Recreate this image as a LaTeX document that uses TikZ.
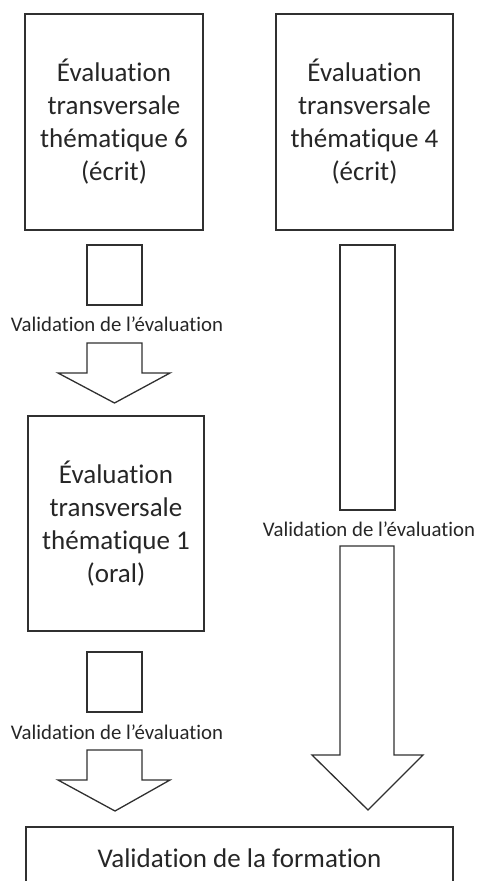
\documentclass[tikz,border=0pt]{standalone}
\usepackage{fontspec}
\setmainfont[Ligatures={NoCommon}]{Carlito}
\usetikzlibrary{calc}
\definecolor{linec}{HTML}{303030}
\begin{document}
\begin{tikzpicture}[x=1pt,y=-1pt,
  box/.style={draw=linec,line width=1.3pt,inner sep=0pt,align=center,
    font=\fontsize{27}{33}\selectfont,text=black!85},
  smallbox/.style={draw=linec,line width=1.3pt,inner sep=0pt},
  lab/.style={inner sep=0pt,font=\fontsize{20.8}{24}\selectfont,text=black!85},
  blockarrow/.style={draw=linec,line width=1.3pt,line join=miter}]
\useasboundingbox (0,0) rectangle (477,881);
\clip (0,0) rectangle (477,881);
% top boxes
\node[box,minimum width=178pt,minimum height=216pt] (e6) at (114,122)
  {Évaluation\\transversale\\thématique 6\\(écrit)};
\node[box,minimum width=177pt,minimum height=216pt] (e4) at (364.5,122)
  {Évaluation\\transversale\\thématique 4\\(écrit)};
% left column
\node[smallbox,minimum width=55pt,minimum height=60pt] (s1) at (114.5,275) {};
\node[lab] (l1) at (117,324) {Validation de l’évaluation};
\coordinate (a1) at (114.5,343);
\draw[blockarrow] ($(a1)+(-27.5,0)$) -- ++(0,30) -- ++(-29,0) -- ++(56.5,30)
  -- ++(55.5,-30) -- ++(-28,0) -- ++(0,-30) -- cycle;
\node[box,minimum width=176pt,minimum height=215pt] (e1) at (116,523.5)
  {Évaluation\\transversale\\thématique 1\\(oral)};
\node[smallbox,minimum width=55pt,minimum height=60pt] (s2) at (114.5,682) {};
\node[lab] (l2) at (117,732) {Validation de l’évaluation};
\coordinate (a2) at (114.5,750);
\draw[blockarrow] ($(a2)+(-27.5,0)$) -- ++(0,30) -- ++(-29,0) -- ++(57,31)
  -- ++(55,-31) -- ++(-28,0) -- ++(0,-30) -- cycle;
% right column
\node[smallbox,minimum width=55pt,minimum height=265pt] (r1) at (367.5,377.5) {};
\node[lab] (l3) at (369,529) {Validation de l’évaluation};
\coordinate (a3) at (367,546);
\draw[blockarrow] ($(a3)+(-27,0)$) -- ++(0,209) -- ++(-28,0) -- ++(56,55)
  -- ++(55,-55) -- ++(-29,0) -- ++(0,-209) -- cycle;
% bottom box
\node[box,minimum width=427pt,minimum height=62pt] (vf) at (239.5,858)
  {Validation de la formation};
\end{tikzpicture}
\end{document}
